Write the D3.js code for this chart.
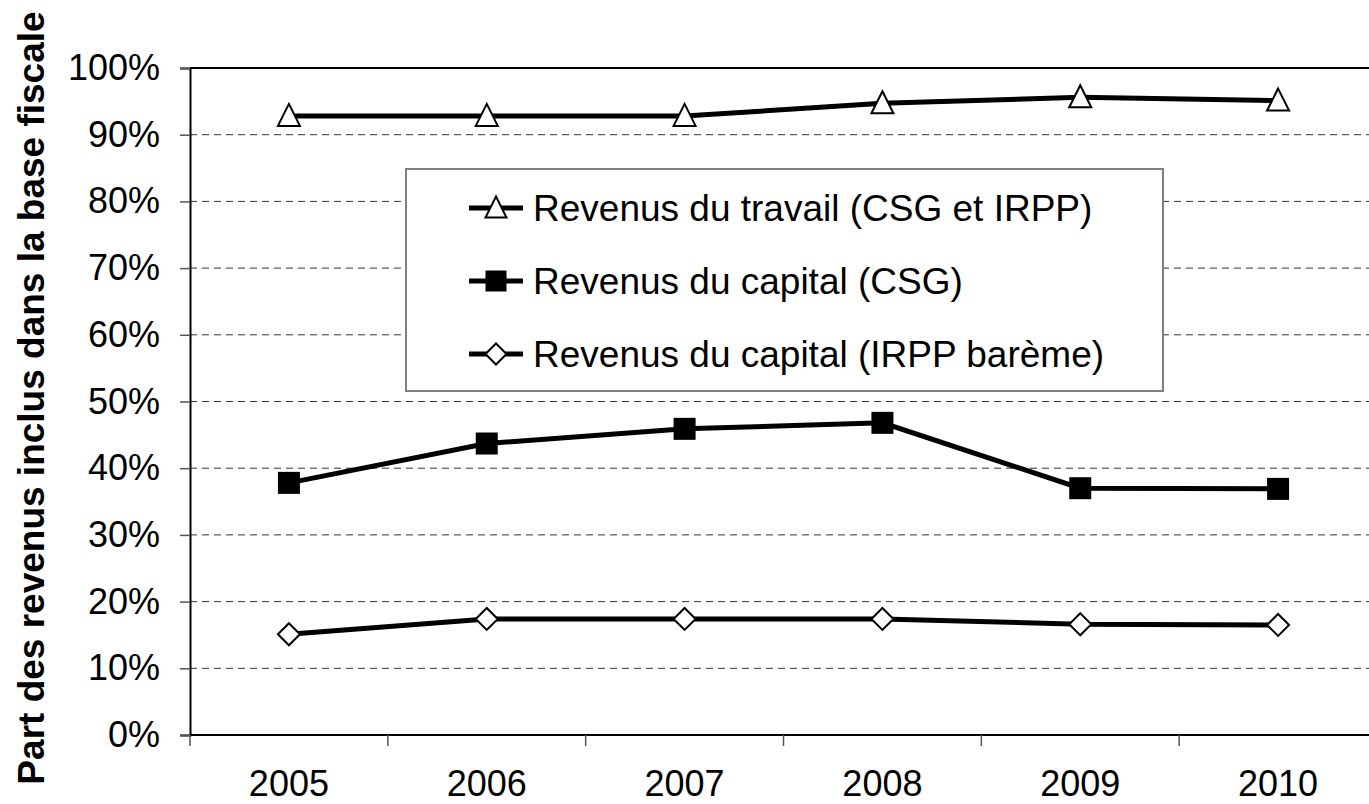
<!DOCTYPE html>
<html>
<head>
<meta charset="utf-8">
<script src="https://cdn.jsdelivr.net/npm/d3@7"></script>
<style>
  html, body { margin: 0; padding: 0; background: #fff; overflow: hidden; }
  svg { display: block; font-family: "Liberation Sans", Arial, sans-serif; }
</style>
</head>
<body>
<svg id="chart"></svg>
<script>
// Données
const years = ["2005", "2006", "2007", "2008", "2009", "2010"];
const travail = [0.928, 0.928, 0.928, 0.947, 0.956, 0.951];
const capitalCSG = [0.378, 0.437, 0.459, 0.468, 0.370, 0.369];
const capitalIRPP = [0.151, 0.174, 0.174, 0.174, 0.166, 0.165];
const yTicks = [0, 0.1, 0.2, 0.3, 0.4, 0.5, 0.6, 0.7, 0.8, 0.9, 1];
const seriesNames = [
  "Revenus du travail (CSG et IRPP)",
  "Revenus du capital (CSG)",
  "Revenus du capital (IRPP barème)"
];

const series = [
  { name: seriesNames[0], values: travail, marker: "triangle" },
  { name: seriesNames[1], values: capitalCSG, marker: "square" },
  { name: seriesNames[2], values: capitalIRPP, marker: "diamond" }
];

const width = 1369;
const height = 804;
const margin = { top: 68, left: 190 };
const plotRight = 1377;
const plotBottom = 735;

const svg = d3.select("#chart")
  .attr("width", width)
  .attr("height", height);

const x = d3.scaleBand()
  .domain(years)
  .range([margin.left, plotRight])
  .padding(0);

const y = d3.scaleLinear()
  .domain([0, 1])
  .range([plotBottom, margin.top]);

// Grille pointillée
svg.append("g")
  .selectAll("line")
  .data(yTicks.filter(d => d > 0 && d < 1))
  .join("line")
  .attr("x1", margin.left)
  .attr("x2", plotRight)
  .attr("y1", d => y(d))
  .attr("y2", d => y(d))
  .attr("stroke", "#333")
  .attr("stroke-width", 1)
  .attr("stroke-dasharray", "7,5");

// Bord supérieur
svg.append("line")
  .attr("x1", margin.left).attr("x2", plotRight)
  .attr("y1", y(1)).attr("y2", y(1))
  .attr("stroke", "#000").attr("stroke-width", 2);

// Axe Y
const yAxis = svg.append("g")
  .attr("transform", `translate(${margin.left},0)`)
  .call(d3.axisLeft(y)
    .tickValues(yTicks)
    .tickFormat(d3.format(".0%"))
    .tickSize(10)
    .tickPadding(20));
yAxis.select(".domain").attr("stroke", "#000").attr("stroke-width", 2);
yAxis.selectAll(".tick line").attr("stroke", "#555").attr("stroke-width", 1.5);
yAxis.selectAll("text")
  .attr("font-size", 36)
  .attr("font-family", "Liberation Sans, Arial, sans-serif")
  .attr("fill", "#000");

// Axe X : graduations entre les catégories
const xBounds = years.map(d => x(d)).concat([x(years[years.length - 1]) + x.bandwidth()]);
svg.append("line")
  .attr("x1", margin.left).attr("x2", plotRight)
  .attr("y1", plotBottom).attr("y2", plotBottom)
  .attr("stroke", "#000").attr("stroke-width", 2);
svg.append("g")
  .selectAll("line")
  .data(xBounds)
  .join("line")
  .attr("x1", d => d).attr("x2", d => d)
  .attr("y1", plotBottom).attr("y2", plotBottom + 11)
  .attr("stroke", "#555").attr("stroke-width", 1.5);
svg.append("g")
  .selectAll("text")
  .data(years)
  .join("text")
  .attr("x", d => x(d) + x.bandwidth() / 2)
  .attr("y", 796)
  .attr("text-anchor", "middle")
  .attr("font-size", 36)
  .text(d => d);

// Titre de l'axe Y
svg.append("text")
  .attr("transform", `translate(44,398) rotate(-90)`)
  .attr("text-anchor", "middle")
  .attr("font-size", 37)
  .attr("font-weight", "bold")
  .text("Part des revenus inclus dans la base fiscale");

// Symboles
function drawMarker(g, type, cx, cy, s) {
  if (type === "triangle") {
    g.append("path")
      .attr("d", `M${cx},${cy - s * 0.55}L${cx + s / 2},${cy + s * 0.45}L${cx - s / 2},${cy + s * 0.45}Z`)
      .attr("fill", "#fff").attr("stroke", "#000").attr("stroke-width", 2);
  } else if (type === "square") {
    g.append("rect")
      .attr("x", cx - s / 2).attr("y", cy - s / 2)
      .attr("width", s).attr("height", s)
      .attr("fill", "#000");
  } else {
    g.append("path")
      .attr("d", `M${cx},${cy - s / 2}L${cx + s / 2},${cy}L${cx},${cy + s / 2}L${cx - s / 2},${cy}Z`)
      .attr("fill", "#fff").attr("stroke", "#000").attr("stroke-width", 2);
  }
}

const line = d3.line()
  .x((d, i) => x(years[i]) + x.bandwidth() / 2)
  .y(d => y(d));

series.forEach(s => {
  svg.append("path")
    .datum(s.values)
    .attr("d", line)
    .attr("fill", "none")
    .attr("stroke", "#000")
    .attr("stroke-width", 5);
  const g = svg.append("g");
  s.values.forEach((v, i) => {
    drawMarker(g, s.marker, x(years[i]) + x.bandwidth() / 2, y(v), 22);
  });
});

// Légende
const legend = svg.append("g");
legend.append("rect")
  .attr("x", 406).attr("y", 169)
  .attr("width", 757).attr("height", 222)
  .attr("fill", "#fff")
  .attr("stroke", "#808080")
  .attr("stroke-width", 2);

series.forEach((s, i) => {
  const cy = 208 + i * 73;
  legend.append("line")
    .attr("x1", 469).attr("x2", 523)
    .attr("y1", cy).attr("y2", cy)
    .attr("stroke", "#000").attr("stroke-width", 5);
  drawMarker(legend, s.marker, 496, cy, 21);
  legend.append("text")
    .attr("x", 533)
    .attr("y", cy)
    .attr("dy", "0.35em")
    .attr("font-size", 37)
    .text(s.name);
});
</script>
</body>
</html>
